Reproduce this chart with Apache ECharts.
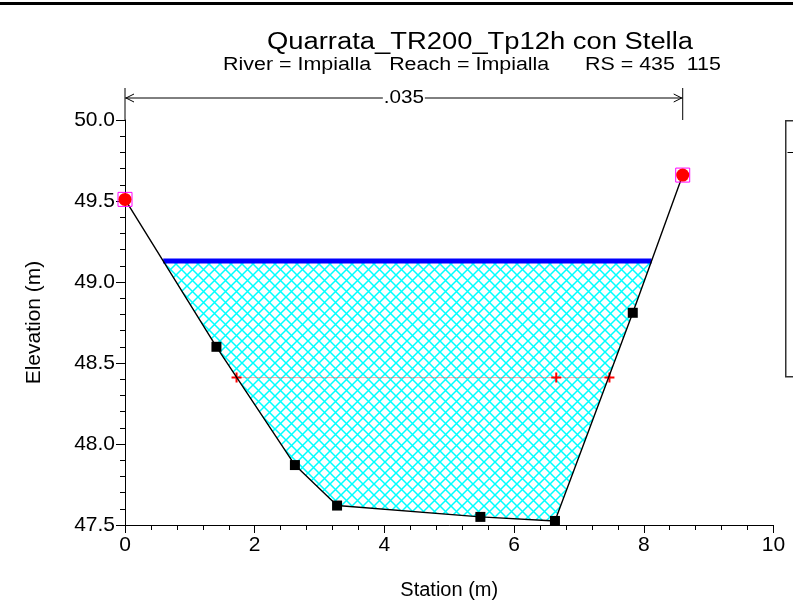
<!DOCTYPE html>
<html lang="en">
<head>
    <meta charset="UTF-8" />
    <title>Quarrata cross section</title>
    <script src="https://cdn.jsdelivr.net/npm/echarts@6/dist/echarts.min.js"></script>
</head>
<body style="margin:0">
    <div id="chart" style="width: 793px; height: 606px"></div>
    <script>
        // ground points of the cross section (station m, elevation m)
        var groundSta = [0, 1.41, 2.62, 3.27, 5.48, 6.63, 7.83, 8.60];
        var groundElev = [49.51, 48.60, 47.87, 47.62, 47.55, 47.525, 48.81, 49.66];
        // bank stations (red circles) and manning n between them
        var bankSta = [0, 8.60];
        var bankElev = [49.51, 49.66];
        var manningN = ".035";
        // water surface
        var wsElev = 49.13;
        // red dotted line with + marks
        var critSta = [1.72, 6.65, 7.47];
        var critElev = 48.41;

        var xTicks = { min: 0, max: 10, step: 2 };
        var yTicks = { min: 47.5, max: 50.0, step: 0.5 };

        var titleText = "Quarrata_TR200_Tp12h con Stella";
        var subText = "River = Impialla   Reach = Impialla      RS = 435  115";

        var ground = groundSta.map((s, i) => [s, groundElev[i]]);

        // where the water surface meets the ground
        function wsCrossings() {
            var out = [];
            for (var i = 0; i < ground.length - 1; i++) {
                var a = ground[i], b = ground[i + 1];
                if ((a[1] - wsElev) * (b[1] - wsElev) < 0) {
                    var t = (wsElev - a[1]) / (b[1] - a[1]);
                    out.push({ i: i, x: a[0] + t * (b[0] - a[0]) });
                }
            }
            return out;
        }
        var cr = wsCrossings();
        var left = cr[0], right = cr[cr.length - 1];
        var wetPoly = [[left.x, wsElev]];
        for (var k = left.i + 1; k <= right.i; k++) wetPoly.push(ground[k]);
        wetPoly.push([right.x, wsElev]);

        // crosshatch tile
        var tile = document.createElement("canvas");
        tile.width = 11;
        tile.height = 11;
        var tc = tile.getContext("2d");
        tc.fillStyle = "#fff";
        tc.fillRect(0, 0, 11, 11);
        tc.strokeStyle = "#00ffff";
        tc.lineWidth = 1.5;
        tc.beginPath();
        tc.moveTo(-1, -1); tc.lineTo(12, 12);
        tc.moveTo(12, -1); tc.lineTo(-1, 12);
        tc.stroke();

        var plusPath = "path://M4,0H6V4H10V6H6V10H4V6H0V4H4Z";
        var font = "Liberation Sans";

        var chart = echarts.init(document.getElementById("chart"));
        var option = {
            animation: false,
            textStyle: { fontFamily: font },
            grid: { left: 125, right: 19.5, top: 120, bottom: 81 },
            xAxis: {
                type: "value",
                min: xTicks.min, max: xTicks.max, interval: xTicks.step,
                name: "Station (m)", nameLocation: "middle", nameGap: 55,
                nameTextStyle: { fontSize: 20, color: "#000" },
                axisLine: { lineStyle: { color: "#000", width: 1 } },
                axisTick: { length: 8, lineStyle: { color: "#000" } },
                minorTick: { show: true, splitNumber: 5, length: 5, lineStyle: { color: "#000" } },
                splitLine: { show: false },
                axisLabel: { fontSize: 21, color: "#000", margin: 10 }
            },
            yAxis: {
                type: "value",
                min: yTicks.min, max: yTicks.max, interval: yTicks.step,
                name: "Elevation (m)", nameLocation: "middle", nameGap: 80,
                nameTextStyle: { fontSize: 21, color: "#000" },
                axisLine: { show: true, lineStyle: { color: "#000", width: 1 } },
                axisTick: { show: true, length: 9, lineStyle: { color: "#000" } },
                minorTick: { show: true, splitNumber: 5, length: 5, lineStyle: { color: "#000" } },
                splitLine: { show: false },
                axisLabel: { fontSize: 21, color: "#000", margin: 10, formatter: v => v.toFixed(1) }
            },
            graphic: [
                { type: "rect", left: 0, top: 2, shape: { width: 793, height: 3 }, style: { fill: "#000" } },
                {
                    type: "text", x: 480, y: 43, scaleX: 1.19,
                    style: { text: titleText, font: "23px " + font, fill: "#000", align: "center", verticalAlign: "middle" }
                },
                {
                    type: "text", x: 472, y: 65, scaleX: 1.19,
                    style: { text: subText, font: "18px " + font, fill: "#000", align: "center", verticalAlign: "middle" }
                },
                { type: "rect", left: 785, top: 120, shape: { width: 30, height: 256 }, style: { fill: "#fff", stroke: "#333", lineWidth: 1.5 } },
                { type: "line", left: 785, top: 150, shape: { x1: 0, y1: 0, x2: 10, y2: 0 }, style: { stroke: "#000", lineWidth: 1 } }
            ],
            series: [
                {
                    // wetted area, crosshatched
                    type: "custom",
                    silent: true,
                    z: 1,
                    data: [[0, wsElev]],
                    renderItem: function (params, api) {
                        return {
                            type: "polygon",
                            shape: { points: wetPoly.map(p => api.coord(p)) },
                            style: { fill: { image: tile, repeat: "repeat" }, stroke: null }
                        };
                    }
                },
                {
                    // manning n arrow and bank station lines above the plot
                    type: "custom",
                    silent: true,
                    clip: false,
                    z: 5,
                    data: [[bankSta[0], yTicks.max]],
                    renderItem: function (params, api) {
                        var p0 = api.coord([bankSta[0], yTicks.max]);
                        var p1 = api.coord([bankSta[1], yTicks.max]);
                        var ya = p0[1] - 22;
                        var mid = (p0[0] + p1[0]) / 2;
                        var ls = { stroke: "#000", lineWidth: 1 };
                        return {
                            type: "group",
                            children: [
                                { type: "line", shape: { x1: p0[0], y1: p0[1] - 32, x2: p0[0], y2: p0[1] }, style: ls },
                                { type: "line", shape: { x1: p1[0], y1: p1[1] - 32, x2: p1[0], y2: p1[1] }, style: ls },
                                { type: "line", shape: { x1: p0[0], y1: ya, x2: p1[0], y2: ya }, style: ls },
                                { type: "polyline", shape: { points: [[p0[0] + 9, ya - 4], [p0[0] + 1, ya], [p0[0] + 9, ya + 4]] }, style: Object.assign({ fill: null }, ls) },
                                { type: "polyline", shape: { points: [[p1[0] - 9, ya - 4], [p1[0] - 1, ya], [p1[0] - 9, ya + 4]] }, style: Object.assign({ fill: null }, ls) },
                                { type: "rect", shape: { x: mid - 21, y: ya - 8, width: 42, height: 16 }, style: { fill: "#fff" } },
                                {
                                    type: "text", x: mid, y: ya, scaleX: 1.15,
                                    style: {
                                        text: manningN, align: "center", verticalAlign: "middle",
                                        fill: "#000", font: "18px " + font
                                    }
                                }
                            ]
                        };
                    }
                },
                {
                    // water surface
                    type: "line",
                    z: 3,
                    data: [[left.x, wsElev], [right.x, wsElev]],
                    symbol: "none",
                    lineStyle: { color: "#0000ff", width: 5 }
                },
                {
                    type: "line",
                    z: 4,
                    data: critSta.map(s => [s, critElev]),
                    symbol: plusPath,
                    symbolSize: 10,
                    itemStyle: { color: "#ff0000", opacity: 1 },
                    lineStyle: { color: "#ff5050", width: 1, type: "dotted" }
                },
                {
                    // ground
                    type: "line",
                    z: 6,
                    data: ground,
                    symbol: "none",
                    lineStyle: { color: "#000", width: 1.4 }
                },
                {
                    type: "scatter",
                    z: 7,
                    data: ground.slice(1, -1),
                    symbol: "rect",
                    symbolSize: 10,
                    itemStyle: { color: "#000", opacity: 1 }
                },
                {
                    type: "scatter",
                    z: 7,
                    data: bankSta.map((s, i) => [s, bankElev[i]]),
                    symbol: "rect",
                    symbolSize: 14,
                    itemStyle: { color: "rgba(0,0,0,0)", borderColor: "#ff00ff", borderWidth: 1, opacity: 1 }
                },
                {
                    type: "scatter",
                    z: 8,
                    data: bankSta.map((s, i) => [s, bankElev[i]]),
                    symbol: "circle",
                    symbolSize: 13,
                    itemStyle: { color: "#ff0000", opacity: 1 }
                }
            ]
        };
        chart.setOption(option);
    </script>
</body>
</html>
